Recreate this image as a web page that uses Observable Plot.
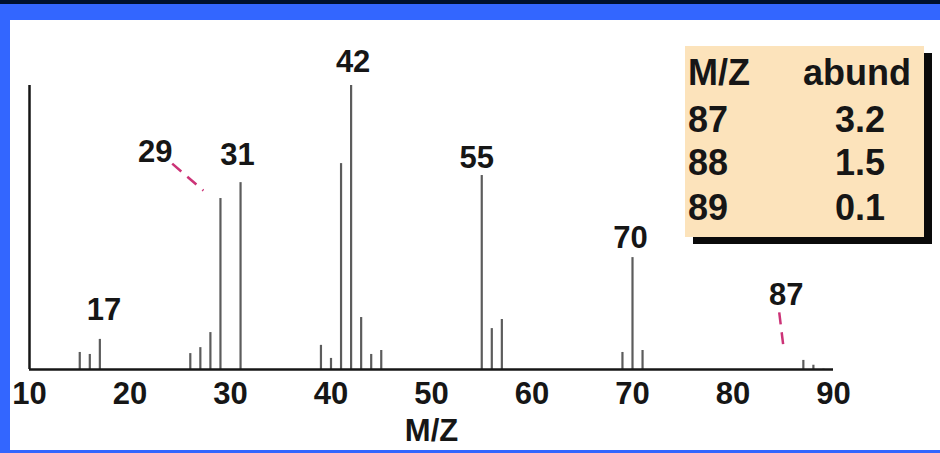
<!DOCTYPE html>
<html><head><meta charset="utf-8">
<script src="https://cdn.jsdelivr.net/npm/d3@7"></script>
<script src="https://cdn.jsdelivr.net/npm/@observablehq/plot@0.6"></script>
<style>
html,body{margin:0;padding:0;}
body{width:940px;height:453px;position:relative;overflow:hidden;background:#3366ff;font-family:"Liberation Sans",Arial,sans-serif;}
#topband{position:absolute;left:0;top:0;width:940px;height:4px;background:#00112e;}
#panel{position:absolute;left:10px;top:20px;width:930px;height:430px;background:#fff;}
#chart{position:absolute;left:0;top:0;}
#inset{position:absolute;left:685px;top:46px;width:239px;height:191px;background:#fce3bb;box-shadow:8px 7px 0 #0a0a0a;}
.cell{position:absolute;font-weight:bold;font-size:36px;color:#161616;line-height:36px;white-space:nowrap;}
</style></head><body>
<div id="topband"></div><div id="panel"></div>
<div id="chart"></div>
<div id="inset"></div>
<script>
// Peak data (m/z, relative abundance %)
const mz        = [15, 16, 17, 26, 27, 28, 29, 31, 39, 40, 41, 42, 43, 44, 45, 55, 56, 57, 69, 70, 71, 87, 88, 89];
const abundance = [6, 5.3, 10.6, 5.6, 7.7, 13, 60.2, 65.8, 8.5, 3.9, 72.5, 100, 18.3, 5.3, 6.7, 68.3, 14.4, 17.6, 6, 39.4, 6.7, 3.2, 1.5, 0.1];

// Peak labels and where they sit (data units)
const labelText = ["17", "29", "31", "42", "55", "70", "87"];
const labelX    = [17.4, 22.5, 30.7, 42.2, 54.5, 69.8, 85.3];
const labelY    = [20.8, 76.4, 75.4, 108.1, 74.3, 46.1, 26.1];

// Dashed leader lines (label -> peak), data units
const leadX1 = [24.2, 84.6];
const leadY1 = [72.5, 20.1];
const leadX2 = [27.3, 85.0];
const leadY2 = [63.0, 8.5];

// Axis ticks
const xTicks = [10, 20, 30, 40, 50, 60, 70, 80, 90];
const xTitle = "M/Z";

// Inset table
const tableHead  = ["M/Z", "abund"];
const tableMz    = ["87", "88", "89"];
const tableAbund = ["3.2", "1.5", "0.1"];

const peaks = mz.map((m, i) => ({mz: m, abund: abundance[i]}));
const labels = labelText.map((t, i) => ({text: t, x: labelX[i], y: labelY[i]}));
const leaders = leadX1.map((x, i) => ({x1: x, y1: leadY1[i], x2: leadX2[i], y2: leadY2[i]}));

const ink = "#161616";
const fs = 31;
const chart = Plot.plot({
  width: 940, height: 453,
  marginLeft: 29, marginRight: 107, marginTop: 85, marginBottom: 84,
  style: {background: "transparent", fontFamily: "'Liberation Sans', Arial, sans-serif", fontWeight: "bold", fontSize: fs + "px", color: ink},
  x: {domain: [10, 90]},
  y: {domain: [0, 100], axis: null},
  marks: [
    Plot.ruleX(peaks, {x: "mz", y1: 0, y2: "abund", stroke: "#5c5c5c", strokeWidth: 2.2}),
    Plot.ruleY([0], {stroke: ink, strokeWidth: 2.5}),
    Plot.ruleX([10], {y1: 0, y2: 100, stroke: ink, strokeWidth: 2.5}),
    Plot.link(leaders, {x1: "x1", y1: "y1", x2: "x2", y2: "y2", stroke: "#cc3377", strokeWidth: 2.5, strokeDasharray: "12,8"}),
    Plot.axisX({ticks: xTicks, tickFormat: d => String(d), tickSize: 0, tickPadding: 12, fontSize: fs, fontWeight: "bold", fill: ink, label: null}),
    Plot.text(labels, {x: "x", y: "y", text: "text", fontSize: fs, fontWeight: "bold", fill: ink}),
    Plot.text([xTitle], {frameAnchor: "bottom", dy: 71, fontSize: fs, fontWeight: "bold", fill: ink})
  ]
});
document.getElementById("chart").appendChild(chart);

// Inset table
const inset = document.getElementById("inset");
function cell(text, css) {
  const d = document.createElement("div");
  d.className = "cell";
  d.textContent = text;
  Object.assign(d.style, css);
  inset.appendChild(d);
}
const rowTops = [9, 56, 99, 144];
cell(tableHead[0], {left: "3px", top: rowTops[0] + "px"});
cell(tableHead[1], {right: "13px", top: rowTops[0] + "px"});
tableMz.forEach((t, i) => cell(t, {left: "3px", top: rowTops[i + 1] + "px"}));
tableAbund.forEach((t, i) => cell(t, {right: "39px", top: rowTops[i + 1] + "px"}));
</script>
</body></html>
